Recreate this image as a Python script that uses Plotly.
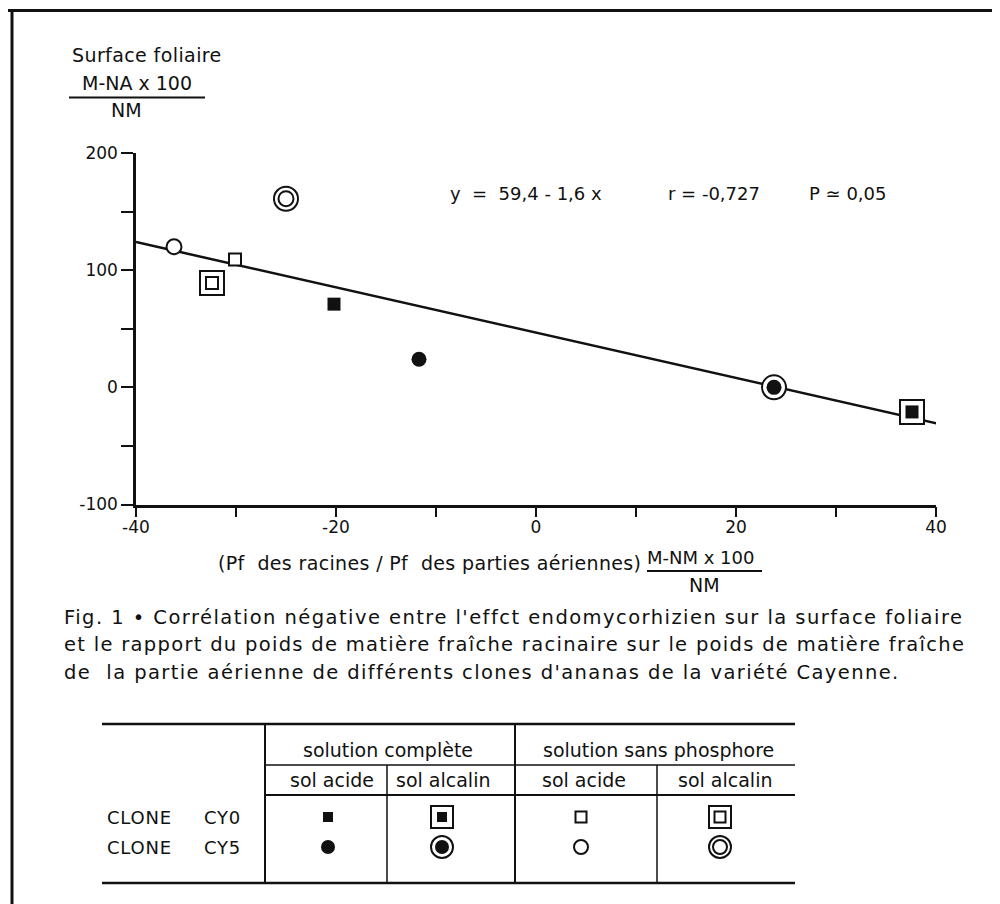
import plotly.graph_objects as go

# ---------------- data ----------------
clone    = ["CY5", "CY5", "CY0", "CY0", "CY0", "CY5", "CY5", "CY0"]
solution = ["sans phosphore", "sans phosphore", "sans phosphore", "sans phosphore",
            "complète", "complète", "complète", "complète"]
sol      = ["alcalin", "acide", "acide", "alcalin", "acide", "acide", "alcalin", "alcalin"]
ratio_pct   = [-25.0, -36.2, -30.1, -32.4, -20.2, -11.7, 23.8, 37.6]
surface_pct = [161, 120, 109, 89, 71, 24, 0, -21]

fit_x = [-40, 40.2]
fit_y = [124, -31]

x_tick_vals = [-40, -30, -20, -10, 0, 10, 20, 30, 40]
x_tick_text = ["-40", "", "-20", "", "0", "", "20", "", "40"]
y_tick_vals = [-100, -50, 0, 50, 100, 150, 200]
y_tick_text = ["-100", "", "0", "", "100", "", "200"]

equation = ["y  =  59,4 - 1,6 x", "r = -0,727", "P ≃ 0,05"]
y_title = ["Surface foliaire", "M-NA x 100", "NM"]
x_title = ["(Pf  des racines / Pf  des parties aériennes)", "M-NM x 100", "NM"]
caption = [
    "Fig. 1 • Corrélation négative entre l'effct endomycorhizien sur la surface foliaire",
    "et le rapport du poids de matière fraîche racinaire sur le poids de matière fraîche",
    "de  la partie aérienne de différents clones d'ananas de la variété Cayenne.",
]
table_solutions = ["complète", "sans phosphore"]
table_solution_labels = ["solution complète", "solution sans phosphore"]
table_sols = ["acide", "alcalin"]
table_sol_labels = ["sol acide", "sol alcalin"]
table_clones = ["CY0", "CY5"]

# ---------------- styling / layout constants ----------------
W, H = 1000, 904
OFF = 8            # page offset of the plot div
INK = "#111111"
FONT = "DejaVu Sans"
CAPTION_SPACING = [1.45, 1.3, 1.4]


def px(x):
    return (x - OFF) / W


def py(y):
    return 1 - (y - OFF) / H


def style(c, s, so):
    return ("square" if c == "CY0" else "circle", s == "complète", so == "alcalin")


fig = go.Figure()


def add_markers(xs, ys, styles, xa, ya, sz):
    for shape in ("square", "circle"):
        idx = [i for i, st in enumerate(styles) if st[0] == shape and st[2]]
        if idx:
            fig.add_trace(go.Scatter(
                x=[xs[i] for i in idx], y=[ys[i] for i in idx], mode="markers",
                marker=dict(symbol=shape, size=sz["ring"], color="white",
                            line=dict(color=INK, width=2)),
                xaxis=xa, yaxis=ya, cliponaxis=False, hoverinfo="skip", showlegend=False))
    for shape in ("square", "circle"):
        for filled in (True, False):
            idx = [i for i, st in enumerate(styles) if st[0] == shape and st[1] == filled]
            if not idx:
                continue
            fig.add_trace(go.Scatter(
                x=[xs[i] for i in idx], y=[ys[i] for i in idx], mode="markers",
                marker=dict(symbol=shape, size=sz[(shape, filled)],
                            color=INK if filled else "white",
                            line=dict(color=INK, width=0 if filled else 2)),
                xaxis=xa, yaxis=ya, cliponaxis=False, hoverinfo="skip", showlegend=False))


# regression line
fig.add_trace(go.Scatter(x=fit_x, y=fit_y, mode="lines", line=dict(color=INK, width=2.5),
                         cliponaxis=False, hoverinfo="skip", showlegend=False))

plot_styles = [style(c, s, so) for c, s, so in zip(clone, solution, sol)]
add_markers(ratio_pct, surface_pct, plot_styles, "x", "y",
            {"ring": 24, ("square", True): 13, ("square", False): 12,
             ("circle", True): 15, ("circle", False): 15})

# table symbols: small subplot over the symbol rows of the table
TAB_X0, TAB_X1 = 265, 795          # table body horizontal extent (px)
TAB_Y0, TAB_Y1 = 795, 883          # symbol rows vertical extent (px)
col_px = [328, 442, 581, 720]      # symbol column centres (px)
row_px = [817, 847]                # symbol row centres (px)
tx, ty, tst = [], [], []
for r, c in enumerate(table_clones):
    k = 0
    for s in table_solutions:
        for so in table_sols:
            tx.append(col_px[k]); ty.append(row_px[r]); tst.append(style(c, s, so))
            k += 1
add_markers(tx, ty, tst, "x2", "y2",
            {"ring": 22, ("square", True): 10, ("square", False): 11,
             ("circle", True): 14, ("circle", False): 14})

shapes = []


def hline(x0, x1, y, w=2):
    shapes.append(dict(type="line", xref="paper", yref="paper", x0=px(x0), x1=px(x1),
                       y0=py(y), y1=py(y), line=dict(color=INK, width=w)))


def vline(x, y0, y1, w=2):
    shapes.append(dict(type="line", xref="paper", yref="paper", x0=px(x), x1=px(x),
                       y0=py(y0), y1=py(y1), line=dict(color=INK, width=w)))


# frame
hline(8, 1000, 10.5, 3)
vline(12, 10, 904, 3)
# fraction bars
hline(69, 205, 97.5, 2)
hline(647, 762, 571, 2)
# table
hline(102, 795, 724, 2.5)
hline(265, 795, 765, 1.5)
hline(265, 795, 795, 2)
hline(102, 795, 883, 2.5)
vline(265, 724, 883, 2)
vline(387, 765, 883, 1.5)
vline(515, 724, 883, 2)
vline(657, 765, 883, 1.5)

ann = []


def text(x, y, t, size=19, anchor="left", spacing=0.0):
    if spacing:
        t = '<span style="letter-spacing:%.2fpx">%s</span>' % (spacing, t)
    ann.append(dict(xref="paper", yref="paper", x=px(x), y=py(y), text=t, showarrow=False,
                    xanchor=anchor, yanchor="middle",
                    font=dict(family=FONT, size=size, color=INK)))


text(70, 55, y_title[0], spacing=0.4)
text(137, 83, y_title[1], anchor="center")
text(126, 110, y_title[2], anchor="center")
text(448, 193, equation[0], 18)
text(666, 193, equation[1], 18)
text(807, 193, equation[2], 18)
text(429, 563, x_title[0], anchor="center", spacing=0.35)
text(700, 557, x_title[1], 18, anchor="center")
text(704, 585, x_title[2], anchor="center")
for i, line in enumerate(caption):
    text(62, 617 + 27.5 * i, line, 19.5, spacing=CAPTION_SPACING[i])
text(388, 750, table_solution_labels[0], anchor="center")
text(658, 750, table_solution_labels[1], anchor="center")
for k, cx in enumerate([332, 443, 584, 725]):
    text(cx, 780, table_sol_labels[k % 2], anchor="center")
for r, c in enumerate(table_clones):
    text(105, row_px[r], "CLONE", 18, spacing=0.8)
    text(202, row_px[r], c, 18, spacing=0.8)

fig.update_layout(
    width=W, height=H, margin=dict(l=0, r=0, t=0, b=0, pad=0, autoexpand=False),
    plot_bgcolor="rgba(0,0,0,0)", paper_bgcolor="white",
    font=dict(family=FONT, color=INK),
    xaxis=dict(domain=[px(136), px(936)], range=[-40, 40], anchor="y",
               showline=True, linecolor=INK, linewidth=2.5, mirror=False,
               ticks="outside", ticklen=10, tickwidth=2, tickcolor=INK,
               tickvals=x_tick_vals, ticktext=x_tick_text, ticklabelstandoff=-5,
               tickfont=dict(family=FONT, size=17, color=INK),
               showgrid=False, zeroline=False, fixedrange=True, automargin=False),
    yaxis=dict(domain=[py(504.5), py(153)], range=[-100, 200], anchor="x",
               showline=True, linecolor=INK, linewidth=2.5,
               ticks="outside", ticklen=12, tickwidth=2, tickcolor=INK,
               tickvals=y_tick_vals, ticktext=y_tick_text,
               tickfont=dict(family=FONT, size=17, color=INK),
               showgrid=False, zeroline=False, fixedrange=True, automargin=False),
    xaxis2=dict(domain=[px(TAB_X0), px(TAB_X1)], range=[TAB_X0, TAB_X1], anchor="y2",
                visible=False, fixedrange=True),
    yaxis2=dict(domain=[py(TAB_Y1), py(TAB_Y0)], range=[TAB_Y1, TAB_Y0], anchor="x2",
                visible=False, fixedrange=True),
    shapes=shapes, annotations=ann, showlegend=False,
)

fig.write_html("out.html")
